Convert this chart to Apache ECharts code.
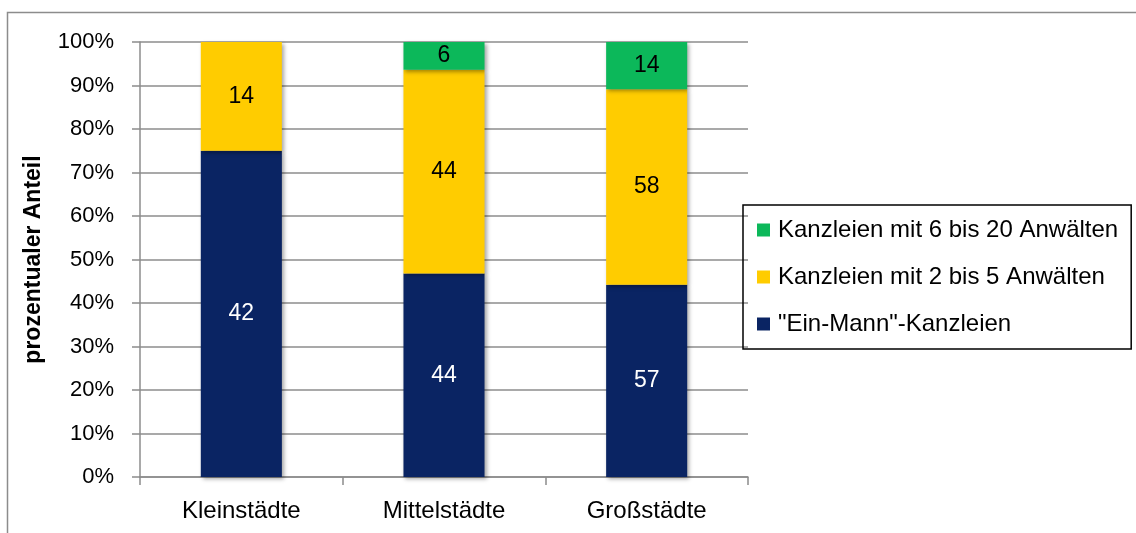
<!DOCTYPE html>
<html>
<head>
<meta charset="utf-8">
<script src="https://cdn.jsdelivr.net/npm/echarts@6/dist/echarts.min.js"></script>
<style>
  html, body { margin: 0; padding: 0; background: #fff; }
  #main { width: 1136px; height: 533px; }
</style>
</head>
<body>
<div id="main"></div>
<script>
// Daten (Anzahl der Kanzleien)
var categories = ['Kleinstädte', 'Mittelstädte', 'Großstädte'];
var einMann = [42, 44, 57];
var zweiBisFuenf = [14, 44, 58];
var sechsBisZwanzig = [0, 6, 14];
var yTicks = [0, 10, 20, 30, 40, 50, 60, 70, 80, 90, 100];

var FONT = 'Liberation Sans';

// Anteile je Stadtgröße
function share(arr, i) {
    var sum = einMann[i] + zweiBisFuenf[i] + sechsBisZwanzig[i];
    return arr[i] / sum * 100;
}
function toPercent(arr) {
    return arr.map(function (v, i) {
        return { value: share(arr, i), count: v };
    });
}

var barStyle = function (color) {
    return {
        color: color,
        shadowColor: 'rgba(0,0,0,0.35)',
        shadowBlur: 4,
        shadowOffsetX: 2,
        shadowOffsetY: 2
    };
};
var label = function (color) {
    return {
        show: true,
        color: color,
        fontFamily: FONT,
        fontSize: 23,
        formatter: function (p) { return p.data.count ? p.data.count : ''; }
    };
};

var myChart = echarts.init(document.getElementById('main'));

var option = {
    animation: false,
    graphic: [{
        type: 'rect',
        left: 5, top: 10,
        shape: { width: 1300, height: 700 },
        style: { fill: 'none', stroke: '#8c8c8c', lineWidth: 1.5 },
        silent: true
    }],
    grid: { left: 140, right: 388, top: 42, bottom: 56 },
    legend: {
        orient: 'vertical',
        left: 743, top: 205,
        data: ['Kanzleien mit 6 bis 20 Anwälten', 'Kanzleien mit 2 bis 5 Anwälten', '"Ein-Mann"-Kanzleien'],
        selectedMode: false,
        borderColor: '#000',
        borderWidth: 1.5,
        borderRadius: 0,
        padding: [13, 13, 13, 14],
        itemGap: 23,
        itemWidth: 13,
        itemHeight: 13,
        icon: 'rect',
        textStyle: { fontFamily: FONT, fontSize: 24, color: '#000', padding: [0, 0, 0, 3] }
    },
    xAxis: {
        type: 'category',
        data: categories,
        axisLine: { lineStyle: { color: '#8c8c8c', width: 1.5 } },
        axisTick: { show: true, length: 8, lineStyle: { color: '#8c8c8c', width: 1.5 } },
        axisLabel: { fontFamily: FONT, fontSize: 24, color: '#000', margin: 22 }
    },
    yAxis: {
        type: 'value',
        min: yTicks[0],
        max: yTicks[yTicks.length - 1],
        interval: 10,
        name: 'prozentualer Anteil',
        nameLocation: 'middle',
        nameGap: 95,
        nameTextStyle: { fontFamily: FONT, fontSize: 23, fontWeight: 'bold', color: '#000' },
        axisLine: { show: true, lineStyle: { color: '#8c8c8c', width: 1.5 } },
        axisTick: { show: true, length: 8, lineStyle: { color: '#8c8c8c', width: 1.5 } },
        splitLine: { lineStyle: { color: '#8c8c8c', width: 1.5 } },
        axisLabel: { fontFamily: FONT, fontSize: 22, color: '#000', margin: 26, formatter: '{value}%' }
    },
    series: [{
        name: '"Ein-Mann"-Kanzleien',
        type: 'bar',
        stack: 'gesamt',
        barWidth: '40%',
        data: toPercent(einMann),
        itemStyle: barStyle('#0a2463'),
        label: label('#fff')
    }, {
        name: 'Kanzleien mit 2 bis 5 Anwälten',
        type: 'bar',
        stack: 'gesamt',
        data: toPercent(zweiBisFuenf),
        itemStyle: barStyle('#ffcc00'),
        label: label('#000')
    }, {
        name: 'Kanzleien mit 6 bis 20 Anwälten',
        type: 'bar',
        stack: 'gesamt',
        data: toPercent(sechsBisZwanzig),
        itemStyle: barStyle('#0cb85a'),
        label: label('#000')
    }]
};

myChart.setOption(option);
</script>
</body>
</html>
